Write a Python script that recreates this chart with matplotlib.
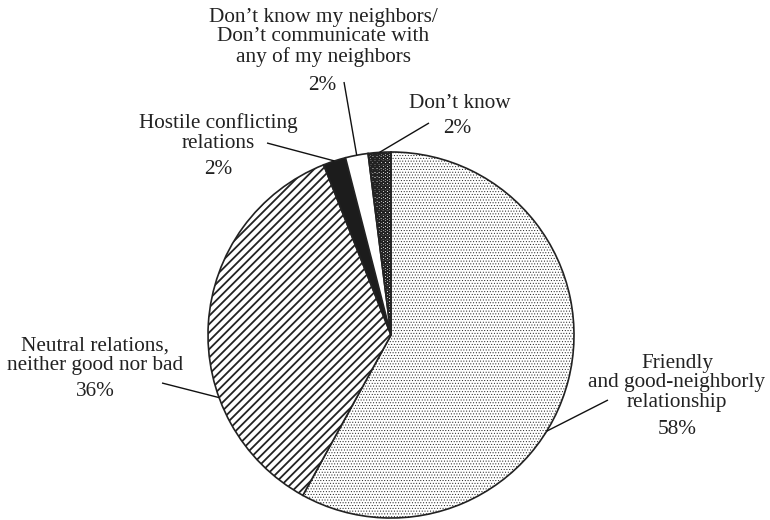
import numpy as np
import matplotlib.pyplot as plt

plt.rcParams['font.family'] = ['Liberation Serif', 'DejaVu Serif']
plt.rcParams['hatch.linewidth'] = 1.0

# data, clockwise from 12 o'clock
labels = ["Friendly\nand good-neighborly\nrelationship",
          "Neutral relations,\nneither good nor bad",
          "Hostile conflicting\nrelations",
          "Don\u2019t know my neighbors/\nDon\u2019t communicate with\nany of my neighbors",
          "Don\u2019t know"]
shares = [58, 36, 2, 2, 2]

# styling per slice
hatches = ['......', '////', '', '', 'OOOO']
fills = ['white', 'white', '#1c1c1c', 'white', 'white']
hatch_lw = [0.4, 1.3, 1.0, 1.0, 1.0]

# label layout in image pixels (x centre, last-line baseline, pct x / baseline)
lab_x = [677, 95, 218, 323, 460]
lab_y = [407, 370, 148, 62, 108]
pct_x = [677, 95, 218, 322, 457]
pct_y = [434, 396, 174, 90, 133]
# leader lines: start point (image px) and angle on the rim (deg)
lead_x = [608, 162, 267, 344, 429]
lead_y = [400, 383, 143, 82, 123]
lead_ang = [-31.7, 200, 108, 100.8, 93.6]

W, H = 770, 520
cx, cy, R = 391, H - 335, 183

fig = plt.figure(figsize=(W / 100, H / 100), dpi=100)
ax = fig.add_axes([0, 0, 1, 1])
wedges, _ = ax.pie(shares, startangle=90, counterclock=False,
                   center=(cx, cy), radius=R, colors=fills, hatch=hatches,
                   wedgeprops=dict(edgecolor='#222222', linewidth=1.2))
for w, lw in zip(wedges, hatch_lw):
    if hasattr(w, 'set_hatch_linewidth'):
        w.set_hatch_linewidth(lw)

fs = 15.3
for i in range(len(labels)):
    ax.text(lab_x[i], H - lab_y[i], labels[i], ha='center', va='baseline',
            fontsize=fs, linespacing=1.05, color='#222222')
    ax.text(pct_x[i], H - pct_y[i], f"{shares[i]}%", ha='center', va='baseline',
            fontsize=fs, color='#222222')
    a = np.deg2rad(lead_ang[i])
    ax.plot([lead_x[i], cx + R * np.cos(a)], [H - lead_y[i], cy + R * np.sin(a)],
            color='#111111', lw=1.0, solid_capstyle='butt')

ax.set_xlim(0, W)
ax.set_ylim(0, H)
ax.set_aspect('equal')
ax.axis('off')

fig.savefig('out.png', dpi=100, facecolor='white')
